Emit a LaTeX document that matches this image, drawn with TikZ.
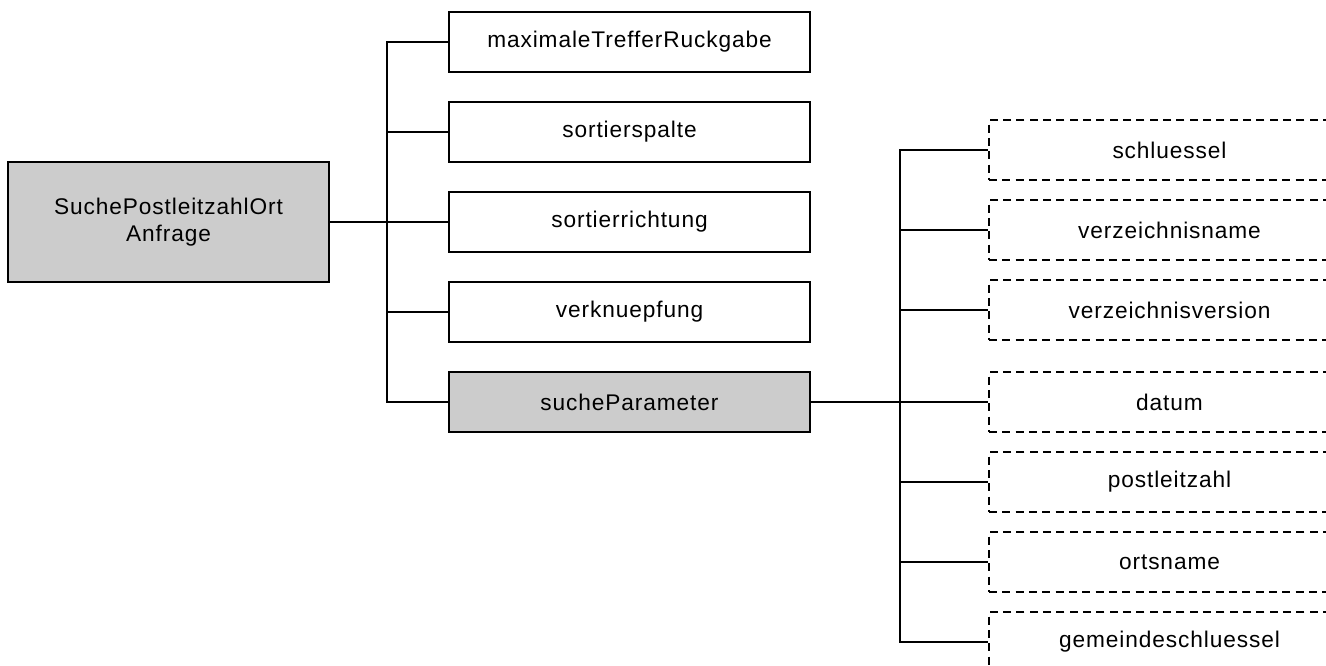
\documentclass[tikz,border=0pt]{standalone}
\usepackage{fontspec}
\setmainfont{Liberation Sans}[LetterSpace=4]
\begin{document}
\begin{tikzpicture}[x=0.75pt, y=-0.75pt, line width=1.3pt,
    box/.style = {draw, rectangle, minimum width=270.75pt, minimum height=45pt, inner sep=0pt, font=\fontsize{17}{20.25}\selectfont},
    grey/.style = {box, fill=black!20},
    opt/.style = {box, dash pattern=on 6pt off 4pt}]
    \clip (0,0) rectangle (1326,666);
    % Wurzel
    \node[grey, minimum width=240.75pt, minimum height=90pt, align=center] (root) at (168.5,222) {SuchePostleitzahlOrt\\Anfrage};

    % mittlere Spalte
    \node[box] (max) at (629.5,42) {maximaleTrefferRuckgabe};
    \node[box] (sps) at (629.5,132) {sortierspalte};
    \node[box] (srt) at (629.5,222) {sortierrichtung};
    \node[box] (vkn) at (629.5,312) {verknuepfung};
    \node[grey] (such) at (629.5,402) {sucheParameter};

    % rechte Spalte (optional)
    \node[opt] (sch) at (1169.5,150) {schluessel};
    \node[opt] (vzn) at (1169.5,230) {verzeichnisname};
    \node[opt] (vzv) at (1169.5,310) {verzeichnisversion};
    \node[opt] (dat) at (1169.5,402) {datum};
    \node[opt] (plz) at (1169.5,482) {postleitzahl};
    \node[opt] (ort) at (1169.5,562) {ortsname};
    \node[opt] (gem) at (1169.5,642) {gemeindeschluessel};

    \draw (root) -- (srt);
    \draw (max.west) -- ++(-61,0) |- (such.west);
    \foreach \n in {sps,vkn} \draw (\n.west) -- ++(-61,0);

    \draw (such) -- (dat);
    \draw (sch.west) -- ++(-88,0) |- (gem.west);
    \foreach \n in {vzn,vzv,plz,ort} \draw (\n.west) -- ++(-88,0);
\end{tikzpicture}
\end{document}
